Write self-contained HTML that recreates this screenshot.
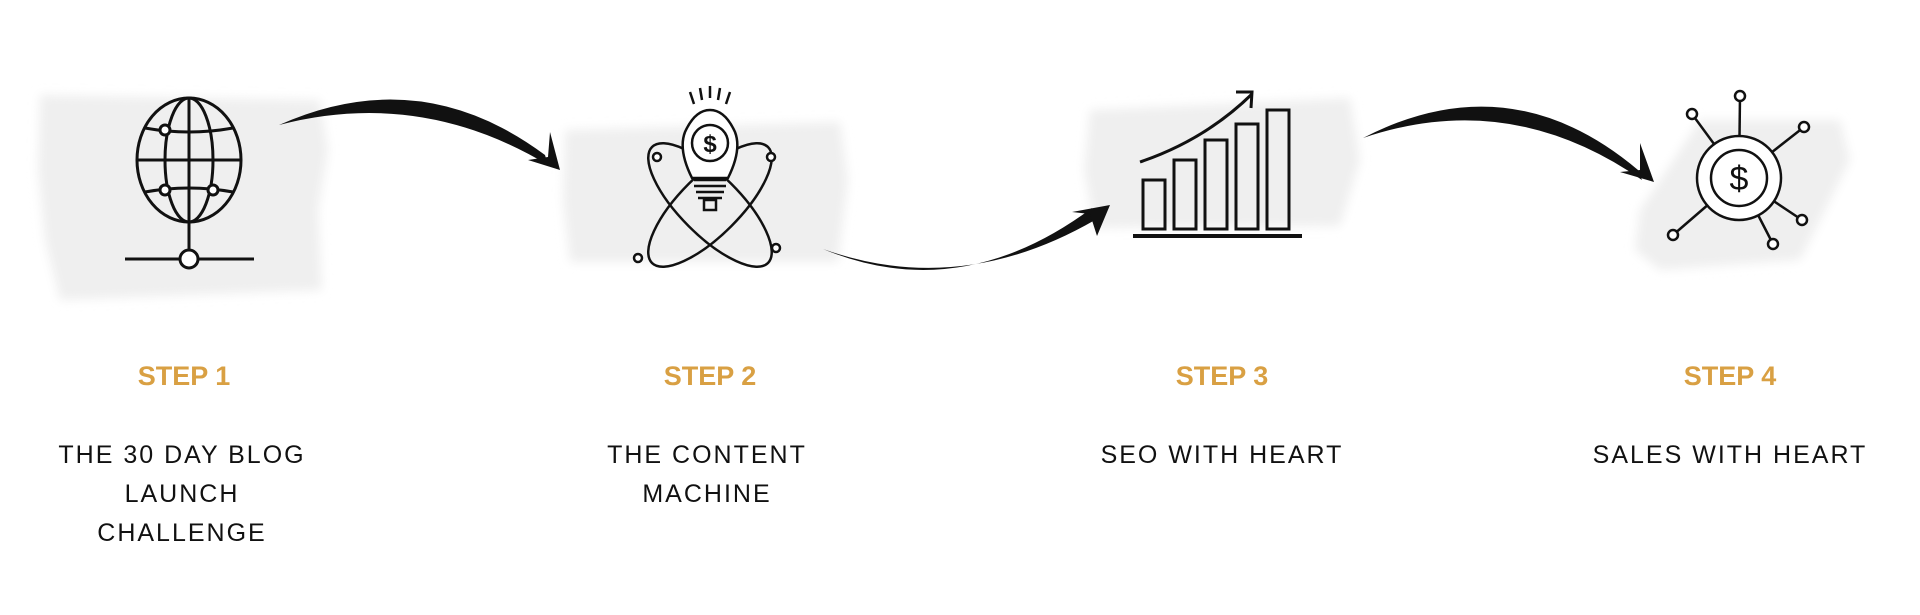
<!DOCTYPE html>
<html><head><meta charset="utf-8"><style>
html,body{margin:0;padding:0;background:#fff;}
svg{display:block}
.st{font-family:"Liberation Sans",sans-serif;font-weight:bold;font-size:27px;fill:#d9a043;text-anchor:middle}
.bd{font-family:"Liberation Sans",sans-serif;font-size:25px;fill:#111;text-anchor:middle;letter-spacing:2px}
</style></head><body>
<svg width="1920" height="615" viewBox="0 0 1920 615" xmlns="http://www.w3.org/2000/svg">
<defs><filter id="bl"><feGaussianBlur stdDeviation="5"/></filter></defs>
<g fill="#efefef" filter="url(#bl)">
<path d="M40 95 L320 100 L328 150 L318 210 L322 290 L60 300 L45 240 L38 170 Z"/>
<path d="M565 130 L840 122 L848 180 L838 262 L570 262 L563 200 Z"/>
<path d="M1090 110 L1350 98 L1360 160 L1340 226 L1095 228 L1084 170 Z"/>
<path d="M1640 210 L1700 120 L1840 120 L1850 160 L1800 260 L1660 270 L1635 250 Z"/>
</g>
<g fill="none" stroke="#111" stroke-width="3">
<ellipse cx="189" cy="160" rx="52" ry="62"/>
<ellipse cx="189" cy="160" rx="24" ry="62"/>
<line x1="189" y1="98" x2="189" y2="250"/>
<line x1="137" y1="160" x2="241" y2="160"/>
<path d="M145 128 Q189 136 233 128"/>
<path d="M145 192 Q189 184 233 192"/>
<line x1="125" y1="259" x2="180" y2="259"/><line x1="198" y1="259" x2="254" y2="259"/>
<circle cx="189" cy="259" r="9" fill="#fff"/>
<circle cx="165" cy="130" r="5" fill="#fff"/>
<circle cx="165" cy="190" r="5" fill="#fff"/>
<circle cx="213" cy="190" r="5" fill="#fff"/>
</g>
<g fill="none" stroke="#111" stroke-width="2.5">
<ellipse cx="710" cy="205" rx="30" ry="82" transform="rotate(-45 710 205)"/>
<ellipse cx="710" cy="205" rx="30" ry="82" transform="rotate(45 710 205)"/>
<path d="M692 178 Q678 150 685 132 Q695 110 710 110 Q725 110 735 132 Q742 150 728 178 Z" fill="#fff"/>
<circle cx="710" cy="143" r="18"/>
<text x="710" y="152" font-family="Liberation Sans" font-size="24" font-weight="bold" fill="#111" stroke="none" text-anchor="middle">$</text>
<path d="M694 180 h32 M694 186 h32 M696 192 h28 M698 198 h24"/>
<rect x="704" y="200" width="12" height="10"/>
<path d="M690 92 l4 12 M700 88 l2 12 M710 86 v12 M720 88 l-2 12 M730 92 l-4 12"/>
<circle cx="657" cy="157" r="4" fill="#fff"/><circle cx="771" cy="157" r="4" fill="#fff"/>
<circle cx="776" cy="248" r="4" fill="#fff"/><circle cx="638" cy="258" r="4" fill="#fff"/>
</g>
<g fill="none" stroke="#111" stroke-width="3">
<rect x="1143" y="180" width="22" height="49"/>
<rect x="1174" y="160" width="22" height="69"/>
<rect x="1205" y="140" width="22" height="89"/>
<rect x="1236" y="124" width="22" height="105"/>
<rect x="1267" y="110" width="22" height="119"/>
<line x1="1133" y1="236" x2="1302" y2="236" stroke-width="4"/>
<path d="M1140 162 Q1205 140 1252 94"/>
<path d="M1236 92 L1252 92 L1251 108"/>
</g>
<g fill="none" stroke="#111" stroke-width="2.5">
<line x1="1739" y1="178" x2="1692" y2="114"/><line x1="1739" y1="178" x2="1740" y2="96"/>
<line x1="1739" y1="178" x2="1804" y2="127"/><line x1="1739" y1="178" x2="1802" y2="220"/>
<line x1="1739" y1="178" x2="1773" y2="244"/><line x1="1739" y1="178" x2="1673" y2="235"/>
<circle cx="1739" cy="178" r="42" fill="#fff"/>
<circle cx="1739" cy="178" r="28"/>
<circle cx="1692" cy="114" r="5" fill="#fff"/><circle cx="1740" cy="96" r="5" fill="#fff"/>
<circle cx="1804" cy="127" r="5" fill="#fff"/><circle cx="1802" cy="220" r="5" fill="#fff"/>
<circle cx="1773" cy="244" r="5" fill="#fff"/><circle cx="1673" cy="235" r="5" fill="#fff"/>
<text x="1739" y="190" font-family="Liberation Sans" font-size="34" fill="#111" stroke="none" text-anchor="middle">$</text>
</g>
<g fill="#111">
<path d="M279 125 Q420 62 545 155 L548 165 Q420 88 279 125 Z"/>
<path d="M560 170 L528 160 L548 157 L550 132 Z"/>
<path d="M823 249 Q960 306 1092 208 L1095 220 Q960 298 823 249 Z"/>
<path d="M1110 205 L1072 212 L1090 214 L1097 236 Z"/>
<path d="M1363 138 Q1510 62 1638 170 L1642 180 Q1510 88 1363 138 Z"/>
<path d="M1654 182 L1620 172 L1640 170 L1640 143 Z"/>
</g>
<text class="st" x="184" y="385">STEP 1</text>
<text class="st" x="710" y="385">STEP 2</text>
<text class="st" x="1222" y="385">STEP 3</text>
<text class="st" x="1730" y="385">STEP 4</text>
<text class="bd" x="182" y="463">THE 30 DAY BLOG</text>
<text class="bd" x="182" y="502">LAUNCH</text>
<text class="bd" x="182" y="541">CHALLENGE</text>
<text class="bd" x="707" y="463">THE CONTENT</text>
<text class="bd" x="707" y="502">MACHINE</text>
<text class="bd" x="1222" y="463">SEO WITH HEART</text>
<text class="bd" x="1730" y="463">SALES WITH HEART</text>
</svg>
</body></html>
